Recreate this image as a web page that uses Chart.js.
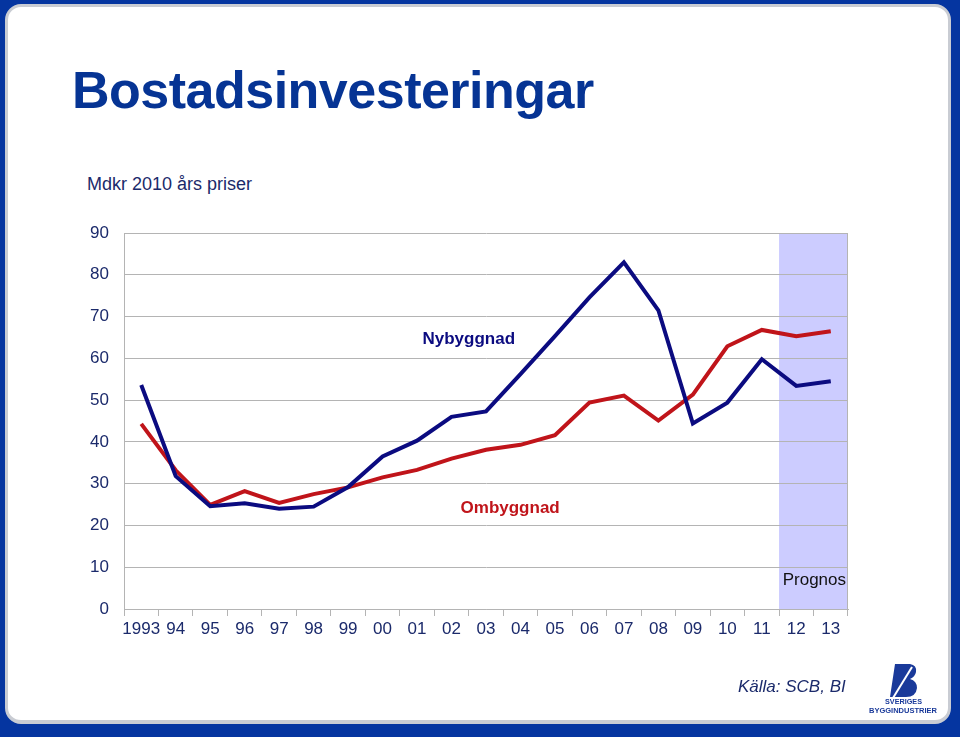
<!DOCTYPE html>
<html>
<head>
<meta charset="utf-8">
<script src="https://cdn.jsdelivr.net/npm/chart.js@4.4.0/dist/chart.umd.min.js"></script>
<style>
  html, body { margin: 0; padding: 0; }
  body { width: 960px; height: 737px; background: #0535a0; position: relative; overflow: hidden; font-family: "Liberation Sans", Arial, sans-serif; }
  .slide { position: absolute; left: 5px; top: 4px; width: 940px; height: 713px; background: #fff; border: 3px solid #c9ccd3; border-bottom-width: 4px; border-radius: 16px; }
  .title { position: absolute; left: 72px; top: 60px; font-size: 52px; font-weight: bold; color: #063494; letter-spacing: -0.5px; }
  .sub { position: absolute; left: 87px; top: 174px; font-size: 18px; color: #1b2a6b; }
  .source { position: absolute; left: 738px; top: 677px; font-size: 17px; font-style: italic; color: #1b2a6b; }
  #chart { position: absolute; left: 0; top: 0; }
  .logo { position: absolute; left: 866px; top: 662px; width: 72px; height: 52px; }
</style>
</head>
<body>
<div class="slide"></div>
<div class="title">Bostadsinvesteringar</div>
<div class="sub">Mdkr 2010 års priser</div>
<canvas id="chart" width="960" height="737"></canvas>
<div class="source">Källa: SCB, BI</div>
<svg class="logo" viewBox="0 0 72 52">
  <path d="M29 2 L44 2 Q51 3 50 10 Q49 15 44 17 Q51 19 51 26 Q50 35 40 35 L24 35 Z" fill="#1a3a9a"/>
  <path d="M27 36 L46 5" stroke="#fff" stroke-width="2"/>
  <text x="37.5" y="41.5" font-size="8" font-weight="bold" fill="#1a3a9a" text-anchor="middle" textLength="37" lengthAdjust="spacingAndGlyphs" font-family="Liberation Sans, Arial">SVERIGES</text>
  <text x="37" y="50.5" font-size="8" font-weight="bold" fill="#1a3a9a" text-anchor="middle" textLength="68" lengthAdjust="spacingAndGlyphs" font-family="Liberation Sans, Arial">BYGGINDUSTRIER</text>
</svg>
<script>
  // Årtal och värden (Mdkr, 2010 års priser)
  const years = ['1993', '94', '95', '96', '97', '98', '99', '00', '01', '02', '03', '04', '05', '06', '07', '08', '09', '10', '11', '12', '13'];
  const nybyggnad = [53.6, 31.8, 24.6, 25.3, 24.0, 24.5, 29.2, 36.5, 40.3, 46.0, 47.3, 56.2, 65.3, 74.6, 83.0, 71.5, 44.4, 49.4, 59.8, 53.4, 54.5];
  const ombyggnad = [44.3, 33.2, 24.9, 28.2, 25.4, 27.5, 29.1, 31.5, 33.3, 36.0, 38.1, 39.3, 41.6, 49.4, 51.1, 45.1, 51.3, 62.9, 66.8, 65.3, 66.5];
  const yTicks = [0, 10, 20, 30, 40, 50, 60, 70, 80, 90];
  const prognosStart = 19; // index för 2012

  const navy = '#0b0b80';
  const red = '#c0141a';
  const tickColor = '#1b2a6b';
  const gridColor = '#b4b4b4';

  // Prognos-fält, högerkant och etiketter
  const extras = {
    id: 'extras',
    beforeDraw(chart) {
      const { ctx, chartArea, scales } = chart;
      const x0 = (scales.x.getPixelForValue(prognosStart - 1) + scales.x.getPixelForValue(prognosStart)) / 2;
      ctx.save();
      ctx.fillStyle = '#ccccff';
      ctx.fillRect(x0, chartArea.top, chartArea.right - x0, chartArea.bottom - chartArea.top);
      ctx.restore();
    },
    afterDraw(chart) {
      const { ctx, chartArea, scales } = chart;
      ctx.save();
      ctx.strokeStyle = gridColor;
      ctx.lineWidth = 1;
      ctx.beginPath();
      ctx.moveTo(chartArea.right - 0.5, chartArea.top);
      ctx.lineTo(chartArea.right - 0.5, chartArea.bottom);
      ctx.stroke();

      ctx.font = '17px "Liberation Sans", Arial';
      ctx.fillStyle = '#111';
      ctx.textAlign = 'right';
      ctx.textBaseline = 'middle';
      ctx.fillText('Prognos', chartArea.right - 2, scales.y.getPixelForValue(6.8));

      ctx.font = 'bold 17px "Liberation Sans", Arial';
      ctx.textAlign = 'center';
      ctx.fillStyle = navy;
      ctx.fillText('Nybyggnad', scales.x.getPixelForValue(9.5), scales.y.getPixelForValue(64.6));
      ctx.fillStyle = red;
      ctx.fillText('Ombyggnad', scales.x.getPixelForValue(10.7), scales.y.getPixelForValue(24.0));
      ctx.restore();
    }
  };

  new Chart(document.getElementById('chart'), {
    type: 'line',
    data: {
      labels: years,
      datasets: [
        { label: 'Nybyggnad', data: nybyggnad, borderColor: navy, borderWidth: 4, pointRadius: 0, tension: 0, borderJoinStyle: 'miter' },
        { label: 'Ombyggnad', data: ombyggnad, borderColor: red, borderWidth: 4, pointRadius: 0, tension: 0, borderJoinStyle: 'miter' }
      ]
    },
    options: {
      responsive: false,
      animation: false,
      devicePixelRatio: 1,
      layout: { padding: { left: 0, top: 233, right: 112, bottom: 88 } },
      plugins: { legend: { display: false }, tooltip: { enabled: false } },
      scales: {
        x: {
          offset: true,
          grid: { offset: true, drawOnChartArea: false, drawTicks: true, tickLength: 7, color: gridColor },
          border: { color: gridColor },
          ticks: { color: tickColor, font: { family: 'Liberation Sans', size: 17 }, padding: 3, maxRotation: 0, autoSkip: false },
          afterFit(scale) { scale.height = 40; }
        },
        y: {
          min: 0,
          max: 90,
          afterBuildTicks(scale) { scale.ticks = yTicks.map(v => ({ value: v })); },
          grid: { color: gridColor, drawTicks: false },
          border: { color: gridColor },
          ticks: { color: tickColor, font: { family: 'Liberation Sans', size: 17 }, padding: 15 },
          afterFit(scale) { scale.width = 124; }
        }
      }
    },
    plugins: [extras]
  });
</script>
</body>
</html>
